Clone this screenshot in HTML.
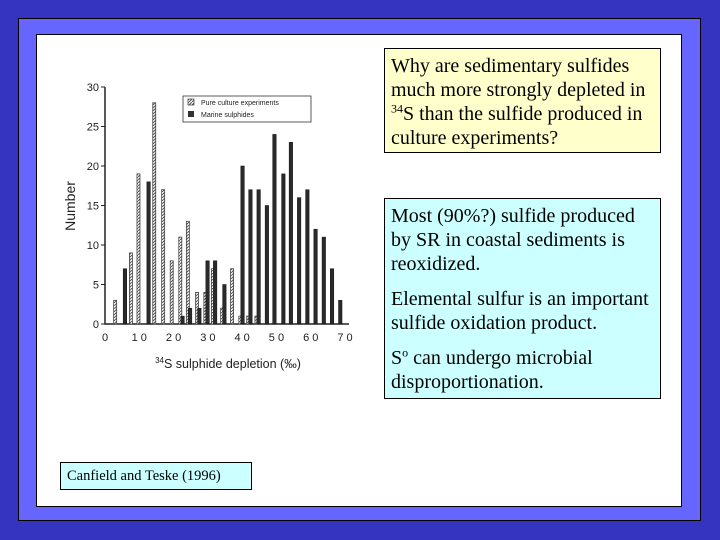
<!DOCTYPE html>
<html><head><meta charset="utf-8">
<style>
body{margin:0;width:720px;height:540px;background:#3434c0;position:relative;overflow:hidden;font-family:"Liberation Serif",serif}
#frame{position:absolute;left:18px;top:18px;width:683px;height:503px;background:#6666ff;border:1px solid #000;box-sizing:border-box}
#inner{position:absolute;left:36px;top:34px;width:646px;height:473px;background:#fff;border:1px solid #000;box-sizing:border-box}
.box{position:absolute;border:1px solid #000;box-sizing:border-box;font-size:20px;line-height:24px;color:#000;padding:5px 6px;white-space:nowrap}
</style></head><body>
<div id="frame"></div>
<div id="inner"></div>
<div class="box" style="left:384px;top:48px;width:277px;height:105px;background:#ffffcc">Why are sedimentary sulfides<br>much more strongly depleted in<br><sup style="font-size:12px;line-height:0">34</sup>S than the sulfide produced in<br>culture experiments?</div>
<div class="box" style="left:384px;top:198px;width:277px;height:201px;background:#ccffff">Most (90%?) sulfide produced<br>by SR in coastal sediments is<br>reoxidized.<div style="height:11px"></div>Elemental sulfur is an important<br>sulfide oxidation product.<div style="height:11px"></div>S<sup style="font-size:12px;line-height:0">o</sup> can undergo microbial<br>disproportionation.</div>
<div class="box" style="left:60px;top:462px;width:192px;height:28px;background:#ccffff;font-size:14.5px;line-height:18px;padding:4px 6px">Canfield and Teske (1996)</div>
<svg id="chart" width="720" height="540" style="position:absolute;left:0;top:0" font-family="Liberation Sans, sans-serif"></svg>
<script>
const depletion=[3.4,5.6,8.0,10.2,12.5,14.8,17.4,19.9,22.4,24.6,27.3,29.7,31.9,34.6,37.5,39.9,42.2,44.6,47,49.2,51.8,54,56.4,58.8,61.2,63.6,66,68.4];
const pureCounts=[3,0,9,19,0,28,17,8,11,13,4,4,7,2,7,1,1,1,0,0,0,0,0,0,0,0,0,0];
const marineCounts=[0,7,0,0,18,0,0,0,1,2,2,8,8,5,0,20,17,17,15,24,19,23,16,17,12,11,7,3];
const xTicks=[0,10,20,30,40,50,60,70];
const xTickLabels=["0","1 0","2 0","3 0","4 0","5 0","6 0","7 0"];
const yTicks=[0,5,10,15,20,25,30];
const svg=document.getElementById('chart');const NS='http://www.w3.org/2000/svg';
const X0=105,X1=345,Y0=324,Y1=87;
const x=v=>X0+(v/70)*(X1-X0);const y=v=>Y0-(v/30)*(Y0-Y1);
function mk(t,a,p){const e=document.createElementNS(NS,t);for(const k in a)e.setAttribute(k,a[k]);(p||svg).appendChild(e);return e;}
const defs=mk('defs',{});
const pat=mk('pattern',{id:'hatch',width:3,height:3,patternUnits:'userSpaceOnUse'},defs);
mk('rect',{width:3,height:3,fill:'#fff'},pat);mk('path',{d:'M0,3 L3,0',stroke:'#555','stroke-width':1},pat);
const ax=mk('path',{d:`M${X0},${Y1} L${X0},${Y0} L${X1+4},${Y0}`,stroke:'#222',fill:'none','stroke-width':1.5});

yTicks.forEach(v=>{mk('line',{x1:X0-4,x2:X0,y1:y(v),y2:y(v),stroke:'#222'});
const t=mk('text',{x:X0-6,y:y(v)+4,'font-size':11,'text-anchor':'end',fill:'#222'});t.textContent=v;
});
xTicks.forEach((v,i)=>{const t=mk('text',{x:x(v),y:Y0+17,'font-size':11,'text-anchor':'middle',fill:'#222'});t.textContent=xTickLabels[i];
});
const yt=mk('text',{x:75,y:206,'font-size':14,'text-anchor':'middle',transform:'rotate(-90 75 206)',fill:'#222'});yt.textContent='Number';

const xt=mk('text',{x:228,y:368,'font-size':12.5,'text-anchor':'middle',fill:'#222'});xt.innerHTML='<tspan font-size="8" dy="-5">34</tspan><tspan dy="5">S sulphide depletion (‰)</tspan>';

depletion.forEach((d,i)=>{
 if(pureCounts[i]>0){const r=mk('rect',{x:x(d)-3,y:y(pureCounts[i]),width:3,height:Y0-y(pureCounts[i]),fill:'url(#hatch)',stroke:'#444','stroke-width':0.8});
 }
 if(marineCounts[i]>0){const r=mk('rect',{x:x(d)-1,y:y(marineCounts[i]),width:3.5,height:Y0-y(marineCounts[i]),fill:'#2a2a2a',stroke:'#111','stroke-width':0.5});
 }
});
const lg=mk('g',{});
mk('rect',{x:183,y:96,width:128,height:26,fill:'#fff',stroke:'#333','stroke-width':0.8},lg);
mk('rect',{x:188,y:99,width:6,height:6,fill:'url(#hatch)',stroke:'#333','stroke-width':0.7},lg);
mk('rect',{x:188,y:111,width:6,height:6,fill:'#333'},lg);
const l1=mk('text',{x:201,y:105,'font-size':7,fill:'#222'},lg);l1.textContent='Pure culture experiments';
const l2=mk('text',{x:201,y:117,'font-size':7,fill:'#222'},lg);l2.textContent='Marine sulphides';
</script>
</body></html>
